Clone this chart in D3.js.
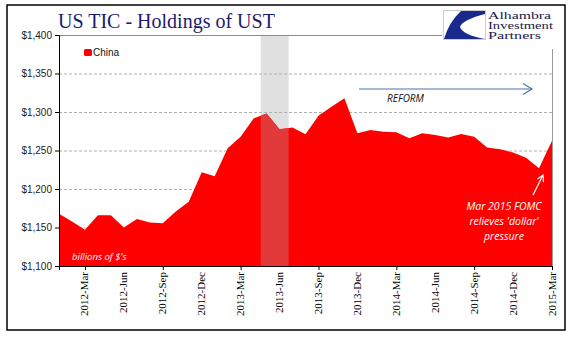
<!DOCTYPE html>
<html><head><meta charset="utf-8">
<script src="https://cdn.jsdelivr.net/npm/d3@7"></script>
<style>body{margin:0;background:#fff}svg{display:block}</style>
</head><body><svg id="c" width="577" height="341"></svg>
<script>
const months = ["2012-Jan","2012-Feb","2012-Mar","2012-Apr","2012-May","2012-Jun","2012-Jul","2012-Aug","2012-Sep","2012-Oct","2012-Nov","2012-Dec",
"2013-Jan","2013-Feb","2013-Mar","2013-Apr","2013-May","2013-Jun","2013-Jul","2013-Aug","2013-Sep","2013-Oct","2013-Nov","2013-Dec",
"2014-Jan","2014-Feb","2014-Mar","2014-Apr","2014-May","2014-Jun","2014-Jul","2014-Aug","2014-Sep","2014-Oct","2014-Nov","2014-Dec",
"2015-Jan","2015-Feb","2015-Mar"];
const china = [1167.7,1157.7,1147,1166,1166,1150,1161,1156.4,1155.6,1170.7,
1183.6,1221.7,1216.5,1252.8,1268,1291.7,1298,1277.5,1280,1271,
1295,1306.8,1317.7,1272.3,1276.6,1274.4,1273.6,1265.8,1272.3,1270,
1267,1271.4,1268,1254,1251.5,1247.5,1240.7,1227,1262.7];
const yTicks = [1100,1150,1200,1250,1300,1350,1400];
const labelMonths = ["2012-Mar","2012-Jun","2012-Sep","2012-Dec","2013-Mar","2013-Jun","2013-Sep","2013-Dec","2014-Mar","2014-Jun","2014-Sep","2014-Dec","2015-Mar"];
const majorMonths = ["2012-Mar","2012-Sep","2013-Mar","2013-Sep","2014-Mar","2014-Sep","2015-Mar"];
const shadeRange = [15.55, 17.7]; // in month-index units
const title = "US TIC - Holdings of UST";
const annot = ["Mar 2015 FOMC","relieves 'dollar'","pressure"];
const logoText = ["Alhambra","Investment","Partners"];

const svg = d3.select("#c");
const L=59, R=552, T=35, B=266;
const x = d3.scaleLinear().domain([0, months.length-1]).range([L,R]);
const y = d3.scaleLinear().domain([1100,1400]).range([B,T]);
const xm = m => x(months.indexOf(m));

// outer frame
svg.append("rect").attr("x",7).attr("y",5).attr("width",558).attr("height",325)
  .attr("fill","#fff").attr("stroke","#000").attr("stroke-width",1.5);

// shade band behind
svg.append("rect").attr("x",x(shadeRange[0])).attr("y",T).attr("width",x(shadeRange[1])-x(shadeRange[0])).attr("height",B-T).attr("fill","#e0e0e0");

// gridlines
svg.append("g").selectAll("line").data(yTicks.filter(d=>d>1100)).join("line")
  .attr("x1",L).attr("x2",R).attr("y1",d=>y(d)+0.5).attr("y2",d=>y(d)+0.5)
  .attr("stroke",d=>d===1400?"#8c8c8c":"#b0b0b0").attr("stroke-dasharray",d=>d===1400?null:"3,2").attr("stroke-width",1);
// right border
svg.append("line").attr("x1",R+0.5).attr("x2",R+0.5).attr("y1",T).attr("y2",B).attr("stroke","#999");

// area
const area = d3.area().x((d,i)=>x(i)).y0(y(1100)).y1(d=>y(d));
svg.append("path").datum(china).attr("d",area).attr("fill","#ff0000");
svg.append("clipPath").attr("id","band").append("rect")
  .attr("x",x(shadeRange[0])).attr("y",T).attr("width",x(shadeRange[1])-x(shadeRange[0])).attr("height",B-T);
svg.append("path").datum(china).attr("d",area).attr("fill","#e23a3a").attr("clip-path","url(#band)");

// y axis
const ya = svg.append("g").attr("transform",`translate(${L},0)`)
  .call(d3.axisLeft(y).tickValues(yTicks).tickSize(4).tickPadding(3).tickFormat(d=>"$"+d3.format(",")(d)));
ya.select(".domain").attr("stroke","#000");
ya.selectAll(".tick line").attr("stroke","#000");
ya.selectAll("text").attr("font-family","Liberation Sans, Arial, sans-serif").attr("font-size",10).attr("fill","#222");

// x axis
const xa = svg.append("g").attr("transform",`translate(0,${B})`)
  .call(d3.axisBottom(x).tickValues(majorMonths.map(m=>months.indexOf(m))).tickSize(4).tickFormat(""));
xa.select(".domain").attr("stroke","#000");
xa.selectAll(".tick line").attr("stroke","#000");
svg.append("g").selectAll("text").data(labelMonths).join("text")
  .attr("transform",d=>`translate(${xm(d)+3.5},${B+6}) rotate(-90)`)
  .attr("text-anchor","end").attr("font-family","Liberation Serif, Times New Roman, serif").attr("font-size",11).attr("fill","#000")
  .text(d=>d);

// title
svg.append("text").attr("x",58).attr("y",28).attr("font-family","Liberation Serif, Times New Roman, serif")
  .attr("font-size",20).attr("fill","#1b1b6b").text(title);

// legend
svg.append("rect").attr("x",84).attr("y",49).attr("width",8).attr("height",7).attr("rx",1.5).attr("fill","#ff0000");
svg.append("text").attr("x",93).attr("y",56).attr("font-family","Liberation Sans, Arial, sans-serif").attr("font-size",10).attr("fill","#111").text("China");

// in-plot labels
svg.append("text").attr("x",72).attr("y",260).attr("font-family","Open Sans, Liberation Sans, sans-serif").attr("font-style","italic").attr("font-size",9.5).attr("fill","#fff").text("billions of $'s");
svg.append("text").attr("x",387).attr("y",102).attr("font-family","Open Sans, Liberation Sans, sans-serif").attr("font-style","italic").attr("font-size",10).attr("fill","#111").text("REFORM");

// reform arrow
svg.append("line").attr("x1",359).attr("x2",532).attr("y1",89).attr("y2",89).attr("stroke","#4f74a8").attr("stroke-width",1.2);
svg.append("path").attr("d","M523,83.5 L532,89 L523,94.5").attr("fill","none").attr("stroke","#4f74a8").attr("stroke-width",1.2);

// annotation
svg.append("g").selectAll("text").data(annot).join("text")
  .attr("x",504).attr("y",(d,i)=>210+i*15).attr("text-anchor","middle")
  .attr("font-family","Open Sans, Liberation Sans, sans-serif").attr("font-style","italic").attr("font-size",10.5).attr("fill","#fff").text(d=>d);
svg.append("line").attr("x1",533).attr("y1",195).attr("x2",543).attr("y2",175).attr("stroke","#fff").attr("stroke-width",1.2);
svg.append("path").attr("d","M537.5,179 L543,175 L543.5,182").attr("fill","none").attr("stroke","#fff").attr("stroke-width",1.2);

// logo
svg.append("rect").attr("x",442).attr("y",7).attr("width",120).attr("height",42).attr("fill","#fff");
svg.append("rect").attr("x",443.5).attr("y",10.5).attr("width",42).attr("height",29).attr("fill","#fff").attr("stroke","#ccc");
svg.append("path").attr("d","M461,11 L485,11 L485,14 Q462,20 460,27 Q463,35 485,39 L444,39 Q449,22 461,11 Z").attr("fill","#1a2a8c");
const logoW = [63,65,53];
svg.append("g").selectAll("text").data(logoText).join("text")
  .attr("x",488).attr("y",(d,i)=>19+i*10).attr("font-family","Liberation Serif, Times New Roman, serif")
  .attr("font-size",11).attr("textLength",(d,i)=>logoW[i]).attr("lengthAdjust","spacingAndGlyphs")
  .attr("fill","#1b1b4b").text(d=>d);
</script></body></html>
